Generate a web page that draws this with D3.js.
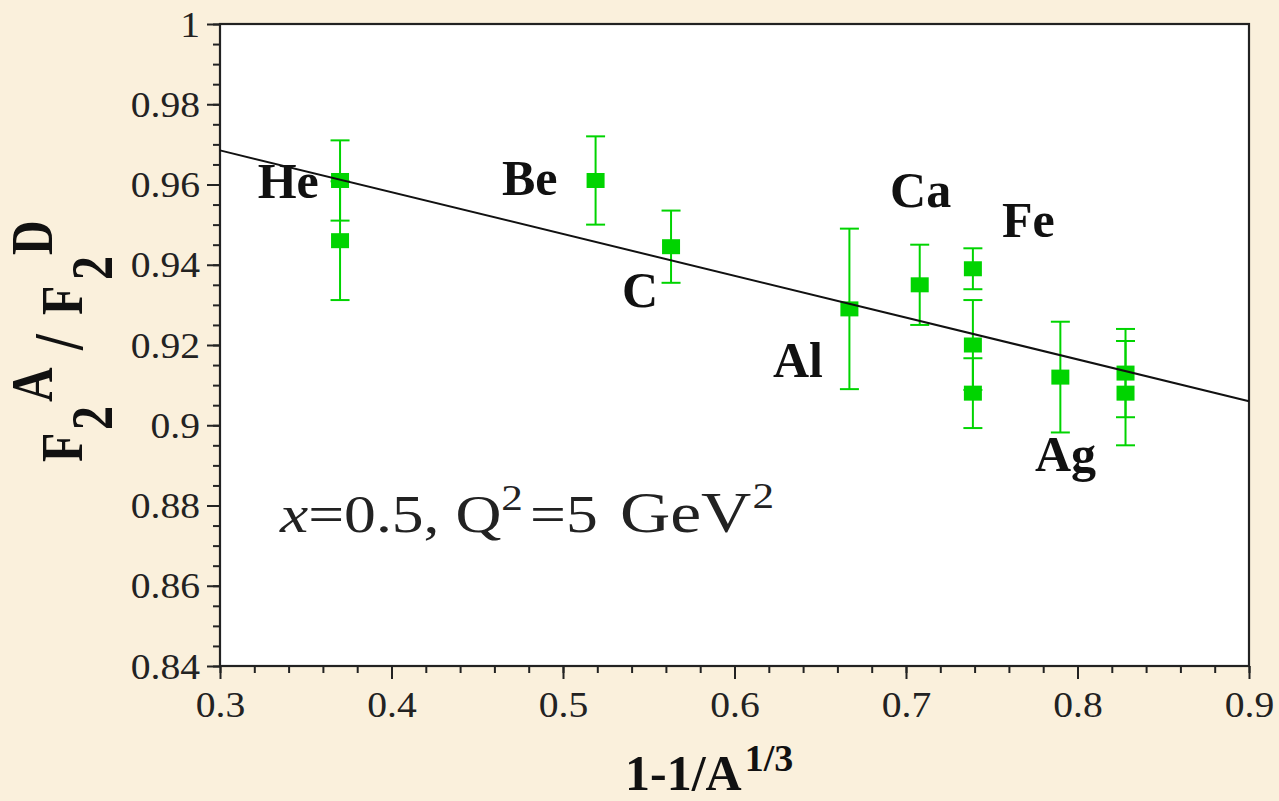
<!DOCTYPE html>
<html>
<head>
<meta charset="utf-8">
<script src="https://cdn.jsdelivr.net/npm/d3@7"></script>
<style>
  html, body { margin: 0; padding: 0; background: #faf0dc; }
  svg { display: block; }
  svg text { font-family: Times, "Times New Roman", "Liberation Serif", Tinos, serif !important; }
</style>
</head>
<body>
<svg id="chart" width="1279" height="801"></svg>
<script>
// ---- data ----
const xTickValues = [0.3, 0.4, 0.5, 0.6, 0.7, 0.8, 0.9];
const xTickLabels = ["0.3", "0.4", "0.5", "0.6", "0.7", "0.8", "0.9"];
const yTickValues = [0.84, 0.86, 0.88, 0.9, 0.92, 0.94, 0.96, 0.98, 1];
const yTickLabels = ["0.84", "0.86", "0.88", "0.9", "0.92", "0.94", "0.96", "0.98", "1"];

const pointX   = [0.370, 0.370, 0.519, 0.563, 0.667, 0.708, 0.739, 0.739, 0.739, 0.790, 0.828, 0.828];
const pointY   = [0.961, 0.946, 0.961, 0.9445, 0.929, 0.935, 0.939, 0.920, 0.908, 0.912, 0.913, 0.908];
const pointErr = [0.010, 0.0148, 0.011, 0.009, 0.020, 0.010, 0.0051, 0.0112, 0.0087, 0.0138, 0.011, 0.013];

const fitX = [0.3, 0.9];
const fitY = [0.9685, 0.906];

const nucleusNames  = ["He", "Be", "C", "Al", "Ca", "Fe", "Ag"];
const nucleusLabelX = [0.322, 0.4644, 0.5344, 0.6224, 0.6907, 0.756, 0.7752];
const nucleusLabelY = [0.9566, 0.9574, 0.9295, 0.912, 0.9544, 0.9469, 0.8886];

// ---- layout ----
const FONT = 'Times, "Times New Roman", "Liberation Serif", Tinos, serif';
const svg = d3.select("#chart");
const M = { left: 220, top: 24, right: 1249, bottom: 666 };
const green = "#00d400";

const x = d3.scaleLinear().domain([0.3, 0.9]).range([M.left, M.right]);
const y = d3.scaleLinear().domain([0.84, 1]).range([M.bottom, M.top]);

// plot background
svg.append("rect")
  .attr("x", M.left).attr("y", M.top)
  .attr("width", M.right - M.left).attr("height", M.bottom - M.top)
  .attr("fill", "#ffffff");

// minor ticks
const xMinor = d3.range(0.3, 0.9001, 0.02).map(v => +v.toFixed(3));
const yMinor = d3.range(0.84, 1.0001, 0.005).map(v => +v.toFixed(4));

svg.append("g")
  .attr("transform", `translate(0,${M.bottom})`)
  .call(d3.axisBottom(x).tickValues(xMinor).tickSize(7).tickFormat(""))
  .call(g => g.select(".domain").remove())
  .call(g => g.selectAll("line").attr("stroke", "#222").attr("stroke-width", 2));

svg.append("g")
  .attr("transform", `translate(${M.left},0)`)
  .call(d3.axisLeft(y).tickValues(yMinor).tickSize(7).tickFormat(""))
  .call(g => g.select(".domain").remove())
  .call(g => g.selectAll("line").attr("stroke", "#222").attr("stroke-width", 2));

// major ticks + labels
svg.append("g")
  .attr("transform", `translate(0,${M.bottom})`)
  .call(d3.axisBottom(x).tickValues(xTickValues).tickSize(13)
        .tickFormat((d, i) => xTickLabels[i]))
  .attr("font-family", FONT)
  .call(g => g.select(".domain").remove())
  .call(g => g.selectAll("line").attr("stroke", "#222").attr("stroke-width", 2))
  .call(g => g.selectAll("text")
      .attr("y", 0).attr("dy", 0)
      .attr("transform", "translate(0,51) scale(1.1,1)")
      .attr("font-size", 36).attr("fill", "#222"));

svg.append("g")
  .attr("transform", `translate(${M.left},0)`)
  .call(d3.axisLeft(y).tickValues(yTickValues).tickSize(13)
        .tickFormat((d, i) => yTickLabels[i]))
  .attr("font-family", FONT)
  .call(g => g.select(".domain").remove())
  .call(g => g.selectAll("line").attr("stroke", "#222").attr("stroke-width", 2))
  .call(g => g.selectAll("text")
      .attr("x", 0).attr("dy", "0.34em")
      .attr("transform", "translate(-20,0) scale(1.1,1)")
      .attr("font-size", 36).attr("fill", "#222"));

// frame
svg.append("rect")
  .attr("x", M.left).attr("y", M.top)
  .attr("width", M.right - M.left).attr("height", M.bottom - M.top)
  .attr("fill", "none").attr("stroke", "#222").attr("stroke-width", 2.2);

// error bars
const pts = pointX.map((v, i) => ({ x: v, y: pointY[i], e: pointErr[i] }));
const eb = svg.append("g").attr("stroke", green).attr("stroke-width", 2);
pts.forEach(p => {
  eb.append("line").attr("x1", x(p.x)).attr("x2", x(p.x))
    .attr("y1", y(p.y + p.e)).attr("y2", y(p.y - p.e));
  [p.y + p.e, p.y - p.e].forEach(v => {
    eb.append("line").attr("x1", x(p.x) - 9.5).attr("x2", x(p.x) + 9.5)
      .attr("y1", y(v)).attr("y2", y(v));
  });
});

// markers
svg.append("g").selectAll("rect").data(pts).join("rect")
  .attr("x", d => x(d.x) - 9).attr("y", d => y(d.y) - 7.5)
  .attr("width", 18).attr("height", 15)
  .attr("fill", green);

// fit line
svg.append("path")
  .datum(fitX.map((v, i) => [v, fitY[i]]))
  .attr("d", d3.line().x(d => x(d[0])).y(d => y(d[1])))
  .attr("fill", "none").attr("stroke", "#111").attr("stroke-width", 2);

// nucleus labels
svg.append("g").attr("font-family", FONT)
  .selectAll("text").data(nucleusNames).join("text")
  .attr("x", (d, i) => x(nucleusLabelX[i]))
  .attr("y", (d, i) => y(nucleusLabelY[i]))
  .attr("font-size", 50).attr("font-weight", "bold").attr("fill", "#111")
  .text(d => d);

// annotation
const ann = svg.append("text")
  .attr("font-family", FONT)
  .attr("transform", "translate(280,532) scale(1.2,1)")
  .attr("font-size", 53).attr("fill", "#222");
ann.append("tspan").attr("font-style", "italic").text("x");
ann.append("tspan").text("=0.5, Q");
ann.append("tspan").attr("font-size", 36).attr("dy", -22).text("2");
ann.append("tspan").attr("dy", 22).attr("dx", 6).text("=5");
ann.append("tspan").attr("dx", 4).attr("font-size", 58).text(" GeV");
ann.append("tspan").attr("font-size", 36).attr("dy", -24).attr("dx", 1).text("2");

// x axis label
const xl = svg.append("text")
  .attr("font-family", FONT)
  .attr("x", 625).attr("y", 790)
  .attr("font-size", 50).attr("font-weight", "bold").attr("fill", "#111");
xl.append("tspan").text("1-1/A");
xl.append("tspan").attr("font-size", 38).attr("dy", -19).attr("dx", 3).text("1/3");

// y axis label (rotated)
const yl = svg.append("text")
  .attr("font-family", FONT)
  .attr("transform", "translate(82,462) scale(1.25,1) rotate(-90)")
  .attr("font-size", 48).attr("font-weight", "bold").attr("fill", "#111");
yl.append("tspan").attr("x", 0).attr("y", 0).text("F");
yl.append("tspan").attr("x", 32).attr("y", 24).text("2");
yl.append("tspan").attr("x", 60).attr("y", -24).text("A");
yl.append("tspan").attr("x", 112).attr("y", 0).attr("font-size", 56).text("/");
yl.append("tspan").attr("x", 147).attr("y", 0).text("F");
yl.append("tspan").attr("x", 182).attr("y", 24).text("2");
yl.append("tspan").attr("x", 207).attr("y", -24).text("D");
</script>
</body>
</html>
